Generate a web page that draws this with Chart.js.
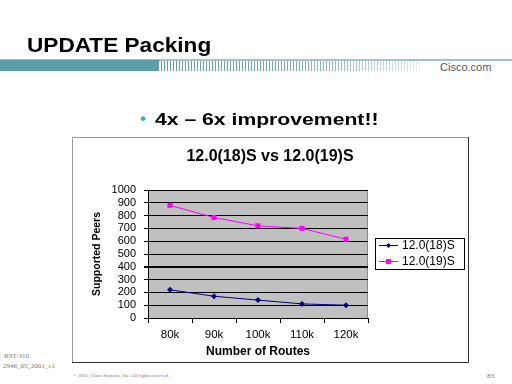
<!DOCTYPE html>
<html>
<head>
<meta charset="utf-8">
<script src="https://cdn.jsdelivr.net/npm/chart.js@4/dist/chart.umd.min.js"></script>
<style>
  html, body { margin:0; padding:0; background:#fff; }
  body { width:512px; height:384px; position:relative; overflow:hidden; font-family:"Liberation Sans", Arial, sans-serif; }
  .abs { position:absolute; white-space:nowrap; line-height:1; }
  #title { left:27px; top:35px; font-size:20px; font-weight:bold; color:#000; transform:scaleX(1.13); transform-origin:left top; }
  #barTop { left:0; top:59px; width:512px; height:2px; background:#9cc5ca; }
  #barSolid { left:0; top:60px; width:160px; height:11px; background:#5b9ea5; }
  #barStripe { left:158px; top:61px; width:270px; height:10px;
    background: repeating-linear-gradient(90deg, #5b9ea5 0px, #5b9ea5 1px, #ffffff 1px, #ffffff 3px);
    -webkit-mask-image: linear-gradient(90deg, rgba(0,0,0,1) 0%, rgba(0,0,0,0.85) 50%, rgba(0,0,0,0.3) 92%, rgba(0,0,0,0) 100%);
    mask-image: linear-gradient(90deg, rgba(0,0,0,1) 0%, rgba(0,0,0,0.85) 50%, rgba(0,0,0,0.3) 92%, rgba(0,0,0,0) 100%); }
  #cisco { left:440px; top:62px; font-size:11px; color:#555; }
  #bulletDot { left:140px; top:110px; font-size:17px; color:#4aaab3; font-weight:bold; }
  #bullet { left:155px; top:110.5px; font-size:17px; font-weight:bold; color:#000; transform:scaleX(1.245); transform-origin:left top; }
  .foot { font-family:"Liberation Serif", "Times New Roman", serif; color:#777; }
  #f1 { left:4px; top:353px; font-size:7px; }
  #f2 { left:3px; top:363px; font-size:7px; }
  #f3 { left:73px; top:373px; font-size:5px; }
  #f4 { left:487px; top:373px; font-size:7px; }
  #wrap { position:absolute; left:72px; top:137px; width:397px; height:226px; }
</style>
</head>
<body>
<div class="abs" id="title">UPDATE Packing</div>
<div class="abs" id="barTop"></div>
<div class="abs" id="barSolid"></div>
<div class="abs" id="barStripe"></div>
<div class="abs" id="cisco">Cisco.com</div>
<div class="abs" id="bulletDot">•</div>
<div class="abs" id="bullet">4x – 6x improvement!!</div>
<div class="abs foot" id="f1">RST-310</div>
<div class="abs foot" id="f2">2946_05_2001_c1</div>
<div class="abs foot" id="f3">© 2001, Cisco Systems, Inc. All rights reserved.</div>
<div class="abs foot" id="f4">83</div>
<div id="wrap"><canvas id="c" width="397" height="226"></canvas></div>
<script>
const categories = ["80k", "90k", "100k", "110k", "120k"];
const series18 = [220, 170, 140, 110, 100];
const series19 = [880, 785, 720, 700, 615];
const seriesNames = ["12.0(18)S", "12.0(19)S"];
const yTicks = [0, 100, 200, 300, 400, 500, 600, 700, 800, 900, 1000];
const chartTitle = "12.0(18)S vs 12.0(19)S";
const xTitle = "Number of Routes";
const yTitle = "Supported Peers";

const FONT = "'Liberation Sans', Arial, sans-serif";

const decor = {
  id: 'decor',
  beforeDraw(chart) {
    const {ctx, chartArea: a} = chart;
    ctx.save();
    ctx.fillStyle = '#c0c0c0';
    ctx.fillRect(a.left, a.top, a.right - a.left, a.bottom - a.top);
    ctx.strokeStyle = '#8a8a8a';
    ctx.lineWidth = 1;
    ctx.beginPath();
    ctx.moveTo(a.right - 0.5, a.top);
    ctx.lineTo(a.right - 0.5, a.bottom);
    ctx.stroke();
    ctx.restore();
  },
  afterDraw(chart) {
    const {ctx, width, height} = chart;
    ctx.save();
    ctx.fillStyle = '#000';
    ctx.font = "bold 16px " + FONT;
    ctx.textAlign = 'center';
    ctx.textBaseline = 'middle';
    ctx.fillText(chartTitle, 198, 20);
    ctx.lineWidth = 1;
    ctx.strokeStyle = '#9a9a9a';
    ctx.beginPath();
    ctx.moveTo(0.5, height); ctx.lineTo(0.5, 0.5); ctx.lineTo(width, 0.5);
    ctx.stroke();
    ctx.strokeStyle = '#333';
    ctx.beginPath();
    ctx.moveTo(width - 0.5, 0); ctx.lineTo(width - 0.5, height - 0.5); ctx.lineTo(0, height - 0.5);
    ctx.stroke();
    const lx = 303, ly = 101, lw = 89, lh = 31;
    ctx.fillStyle = '#fff';
    ctx.fillRect(lx, ly, lw, lh);
    ctx.strokeStyle = '#000';
    ctx.strokeRect(lx + 0.5, ly + 0.5, lw, lh);
    const rows = [108.5, 124.5];
    chart.data.datasets.forEach((ds, i) => {
      const y = rows[i];
      ctx.strokeStyle = ds.borderColor;
      ctx.lineWidth = 1;
      ctx.beginPath();
      ctx.moveTo(307, y); ctx.lineTo(326, y);
      ctx.stroke();
      ctx.fillStyle = ds.backgroundColor;
      if (i === 0) {
        ctx.beginPath();
        ctx.moveTo(316.5, y - 2.5); ctx.lineTo(319, y); ctx.lineTo(316.5, y + 2.5); ctx.lineTo(314, y);
        ctx.closePath(); ctx.fill();
      } else {
        ctx.fillRect(314, y - 2.5, 5, 5);
      }
      ctx.fillStyle = '#000';
      ctx.font = "12px " + FONT;
      ctx.textAlign = 'left';
      ctx.textBaseline = 'middle';
      ctx.fillText(ds.label, 330, y + 0.5);
    });
    ctx.restore();
  }
};

new Chart(document.getElementById('c'), {
  type: 'line',
  data: {
    labels: categories,
    datasets: [
      { label: seriesNames[0], data: series18, borderColor: '#000080', backgroundColor: '#000080',
        borderWidth: 1, pointStyle: 'rectRot', pointRadius: 3, pointBorderWidth: 0, tension: 0 },
      { label: seriesNames[1], data: series19, borderColor: '#ff00ff', backgroundColor: '#ff00ff',
        borderWidth: 1, pointStyle: 'rect', pointRadius: 3.6, pointBorderWidth: 0, tension: 0 }
    ]
  },
  options: {
    responsive: false,
    animation: false,
    events: [],
    devicePixelRatio: 1,
    layout: { padding: { left: 0, top: 53, right: 101, bottom: 0 } },
    plugins: { legend: { display: false }, title: { display: false }, tooltip: { enabled: false } },
    scales: {
      x: {
        type: 'category',
        offset: true,
        afterFit(s) { s.height = 45; },
        grid: { display: true, offset: true, drawOnChartArea: false, drawTicks: true, tickLength: 5, color: '#000' },
        border: { display: true, color: '#000', width: 1 },
        ticks: { color: '#000', font: { family: FONT, size: 11.5 }, padding: 5, maxRotation: 0, autoSkip: false },
        title: { display: true, text: xTitle, color: '#000', font: { family: FONT, size: 12, weight: 'bold' }, padding: { top: 0, bottom: 4 } }
      },
      y: {
        min: 0, max: 1000,
        afterFit(s) { s.width = 76; },
        afterBuildTicks(s) { s.ticks = yTicks.map(v => ({ value: v })); },
        grid: { color: '#000', lineWidth: (c) => (c.tick && c.tick.value === 400 ? 2 : 1), drawTicks: true, tickLength: 4 },
        border: { display: true, color: '#000', width: 1 },
        ticks: { color: '#000', font: { family: FONT, size: 11 }, padding: 8, autoSkip: false,
                 callback: (v) => String(v) },
        title: { display: true, text: yTitle, color: '#000', font: { family: FONT, size: 10.5, weight: 'bold' }, padding: { top: 19, bottom: 0 } }
      }
    }
  },
  plugins: [decor]
});
</script>
</body>
</html>
